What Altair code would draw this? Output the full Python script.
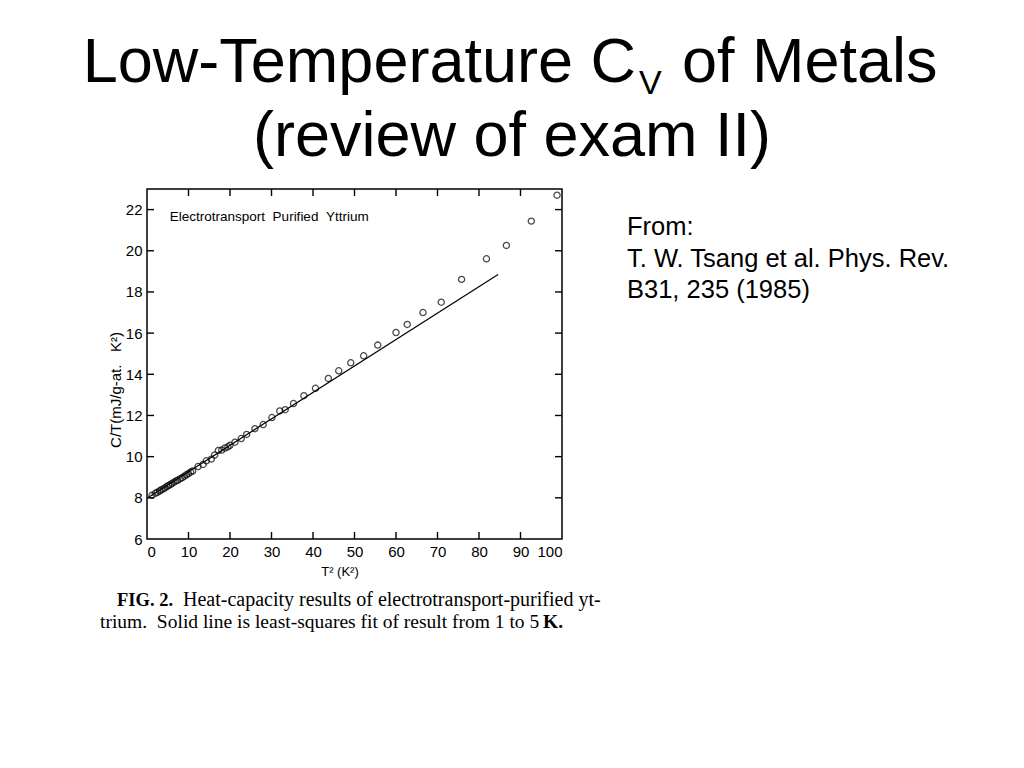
import altair as alt
import pandas as pd

# ---- data ----
t2_pts = [1.2, 2.0, 2.5, 3.0, 3.4, 3.9, 4.3, 4.8, 5.2, 5.6, 6.0, 6.5, 7.0, 7.4,
          8.0, 8.5, 9.0, 9.5, 10.0, 10.5, 11.0, 12.3, 13.5, 14.3, 15.5, 16.3,
          17.2, 18.0, 18.8, 19.5, 20.0, 21.2, 22.7, 24.0, 26.0, 28.0, 30.1,
          32.0, 33.3, 35.3, 37.8, 40.6, 43.7, 46.2, 49.1, 52.2, 55.6, 60.0,
          62.7, 66.5, 70.9, 75.8, 81.8, 86.6, 92.6, 98.8]
ct_pts = [8.12, 8.22, 8.27, 8.33, 8.38, 8.43, 8.48, 8.55, 8.60, 8.64, 8.70, 8.76,
          8.82, 8.85, 8.93, 8.98, 9.05, 9.12, 9.18, 9.25, 9.30, 9.52, 9.62,
          9.80, 9.88, 10.08, 10.30, 10.32, 10.42, 10.48, 10.55, 10.70, 10.88,
          11.08, 11.36, 11.56, 11.90, 12.22, 12.28, 12.58, 12.96, 13.32, 13.80,
          14.17, 14.56, 14.90, 15.42, 16.03, 16.42, 17.00, 17.50, 18.61, 19.61,
          20.26, 21.44, 22.70]
fit_t2 = [0, 84.6]
fit_ct = [7.98, 18.85]
x_ticks = [10, 20, 30, 40, 50, 60, 70, 80, 90]
y_ticks = [8, 10, 12, 14, 16, 18, 20, 22]
x_labels = [0, 10, 20, 30, 40, 50, 60, 70, 80, 90, 100]
y_labels = [6, 8, 10, 12, 14, 16, 18, 20, 22]

W, H = 415, 350
OX, OY = 147, 189  # page position of plot origin
NB = "\u00a0"

pts = pd.DataFrame({"t2": t2_pts, "ct": ct_pts})
fit = pd.DataFrame({"t2": fit_t2, "ct": fit_ct})
xt = pd.DataFrame({"v": x_ticks})
yt = pd.DataFrame({"v": y_ticks})

xs = alt.Scale(domain=[0, 100], nice=False, zero=False)
ys = alt.Scale(domain=[6, 23], nice=False, zero=False)

base_x = alt.X("t2:Q", scale=xs,
               axis=alt.Axis(values=x_labels, ticks=False, domain=False, grid=False,
                             labelFontSize=15, labelFont="Liberation Sans",
                             labelColor="black", labelPadding=5, title=""))
base_y = alt.Y("ct:Q", scale=ys,
               axis=alt.Axis(values=y_labels, ticks=False, domain=False, grid=False,
                             labelFontSize=15, labelFont="Liberation Sans",
                             labelColor="black", labelPadding=5, title=""))

points = alt.Chart(pts).mark_point(shape="circle", filled=False, color="black",
                                   size=38, strokeWidth=1.3).encode(x=base_x, y=base_y)
line = alt.Chart(fit).mark_line(color="black", strokeWidth=1.2).encode(
    x=alt.X("t2:Q", scale=xs), y=alt.Y("ct:Q", scale=ys))

tick_bottom = alt.Chart(xt).mark_rule(color="black", strokeWidth=1.4).encode(
    x=alt.X("v:Q", scale=xs), y=alt.value(H), y2=alt.value(H - 7))
tick_top = alt.Chart(xt).mark_rule(color="black", strokeWidth=1.4).encode(
    x=alt.X("v:Q", scale=xs), y=alt.value(0), y2=alt.value(7))
tick_left = alt.Chart(yt).mark_rule(color="black", strokeWidth=1.4).encode(
    y=alt.Y("v:Q", scale=ys), x=alt.value(0), x2=alt.value(7))
tick_right = alt.Chart(yt).mark_rule(color="black", strokeWidth=1.4).encode(
    y=alt.Y("v:Q", scale=ys), x=alt.value(W), x2=alt.value(W - 7))

inner = alt.Chart(pd.DataFrame({
    "t2": [5.5], "ct": [21.65],
    "s": ["Electrotransport" + NB + NB + "Purified" + NB + NB + "Yttrium"]})).mark_text(
    align="left", baseline="middle", font="Liberation Sans", fontSize=13.5,
    color="black").encode(x=alt.X("t2:Q", scale=xs), y=alt.Y("ct:Q", scale=ys), text="s:N")


def label(s, px, py, size, font="Liberation Sans", align="left", weight="normal",
          angle=0, baseline="alphabetic"):
    kw = dict(align=align, baseline=baseline, font=font, fontSize=size,
              fontWeight=weight, color="black")
    if angle:
        kw["angle"] = angle
    return alt.Chart(pd.DataFrame({"s": [s]})).mark_text(**kw).encode(
        x=alt.value(px - OX), y=alt.value(py - OY), text="s:N")


tf = "Liberation Sans"
texts = [
    label("Low-Temperature C", 636, 82, 63, font=tf, align="right"),
    label("V", 639, 94, 34, font=tf),
    label("of Metals", 682, 82, 63, font=tf),
    label("(review of exam II)", 512, 156, 63, font=tf, align="center"),
    label("C/T(mJ/g-at." + NB + NB + NB + "K²)", 116, 390, 15, angle=270,
          align="center", baseline="middle"),
    label("T² (K²)", 340, 576, 13, align="center"),
    label("FIG. 2.", 117, 606, 18.5, font="Liberation Serif", weight="bold"),
    label("Heat-capacity results of electrotransport-purified yt-", 183, 606, 20,
          font="Liberation Serif"),
    label("trium." + NB + " Solid line is least-squares fit of result from 1 to 5", 100,
          628, 19.5, font="Liberation Serif"),
    label("K.", 543, 628, 19.5, font="Liberation Serif", weight="bold"),
    label("From:", 627, 235, 25.5),
    label("T. W. Tsang et al. Phys. Rev.", 627, 267, 25.5),
    label("B31, 235 (1985)", 627, 298, 25.5),
]

chart = alt.layer(line, points, tick_bottom, tick_top, tick_left, tick_right, inner,
                  *texts).properties(
    width=W, height=H,
    autosize=alt.AutoSizeParams(type="none"),
    padding={"left": OX - 8, "top": OY - 8, "right": 440, "bottom": 200},
).configure_view(stroke="black", strokeWidth=1.5)

chart.save("out.html", embed_options={"renderer": "svg", "actions": False})
